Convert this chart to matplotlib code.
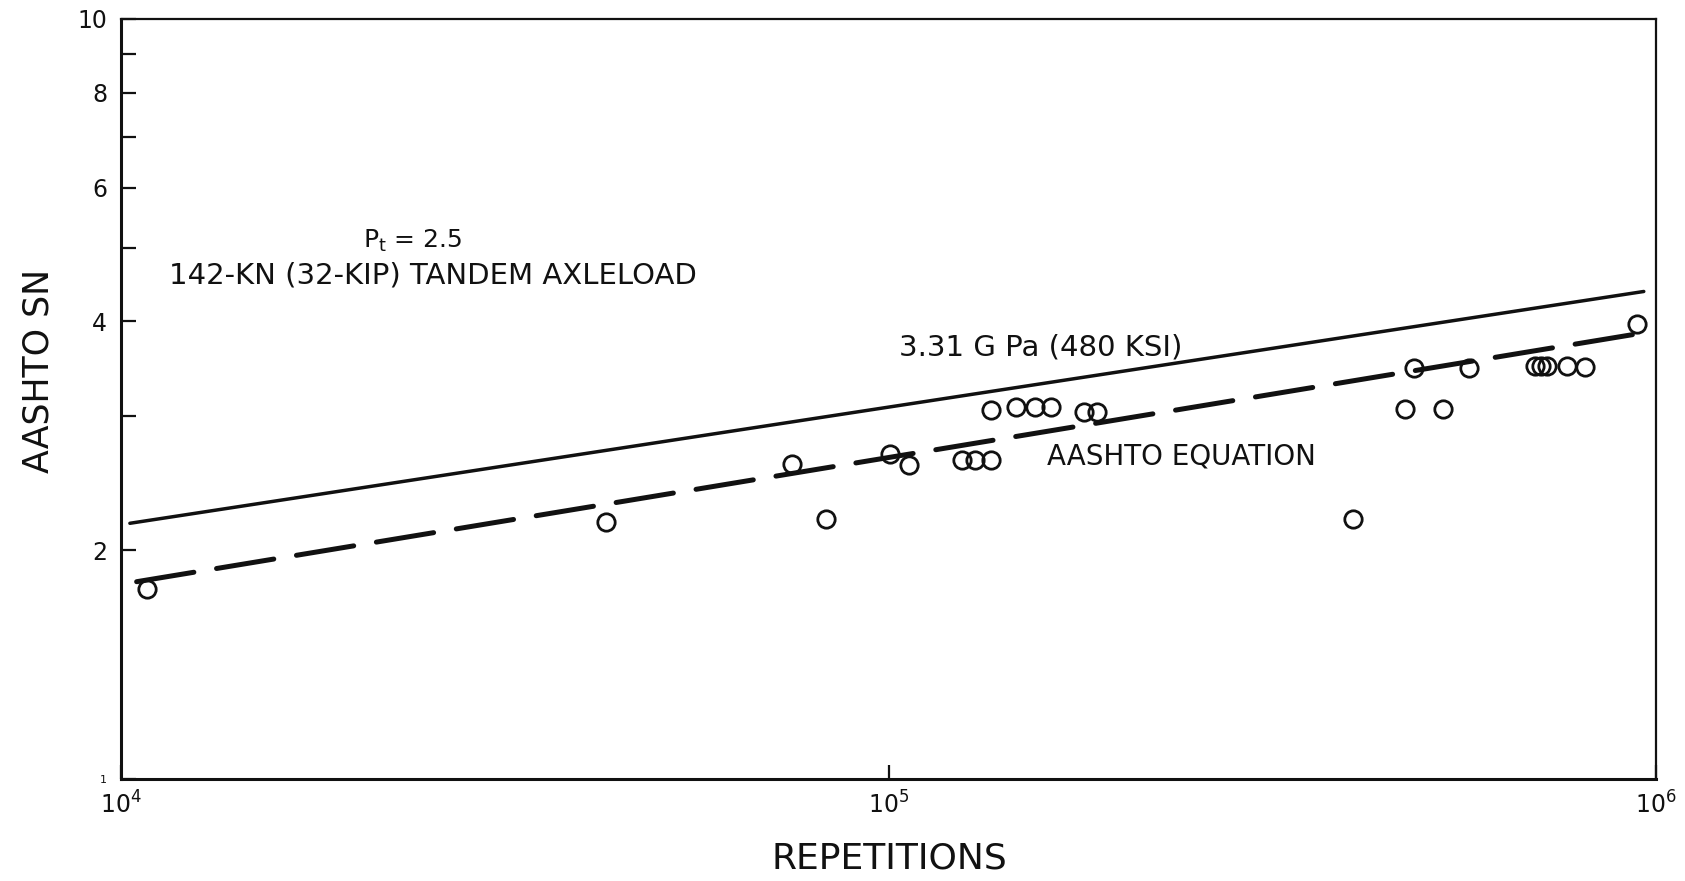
"""
AASHTO SN vs load repetitions - 142-kN tandem axleload, Pt = 2.5
"""

import matplotlib
matplotlib.use("Agg")
import matplotlib.pyplot as plt
from matplotlib.ticker import FixedLocator, NullFormatter, NullLocator

# ----------------------------------------------------------------------
# data
# ----------------------------------------------------------------------
reps = [1.08e4, 4.29e4, 7.49e4, 8.28e4, 1.005e5, 1.064e5, 1.247e5, 1.296e5,
        1.362e5, 1.358e5, 1.468e5, 1.552e5, 1.629e5, 1.80e5, 1.867e5,
        4.03e5, 4.71e5, 4.84e5, 5.28e5, 5.71e5, 6.95e5, 7.09e5, 7.20e5,
        7.65e5, 8.07e5, 9.46e5]
sn = [1.78, 2.18, 2.60, 2.20, 2.68, 2.59, 2.63, 2.63,
      2.63, 3.06, 3.09, 3.09, 3.09, 3.04, 3.04,
      2.20, 3.07, 3.47, 3.07, 3.47, 3.50, 3.50, 3.50,
      3.50, 3.48, 3.97]

# 3.31 GPa (480 ksi) line, straight on log-log
gpa_reps = [1.027e4, 9.64e5]
gpa_sn = [2.17, 4.38]

# AASHTO equation line
aashto_reps = [1.048e4, 9.57e5]
aashto_sn = [1.818, 3.86]

y_major = [1, 2, 4, 6, 8, 10]
y_minor = [3, 5, 7, 9]
x_major = [1e4, 1e5, 1e6]
x_labels = [r"$\mathregular{10^{4}}$", r"$\mathregular{10^{5}}$", r"$\mathregular{10^{6}}$"]

ink = "#111111"
plt.rcParams["font.family"] = "DejaVu Sans"
plt.rcParams["mathtext.fontset"] = "dejavusans"

# ----------------------------------------------------------------------
# figure
# ----------------------------------------------------------------------
fig = plt.figure(figsize=(16.85, 8.81), dpi=100)
ax = fig.add_axes([121 / 1685, 1 - 779 / 881, 1535 / 1685, 760 / 881])

ax.plot(gpa_reps, gpa_sn, color=ink, lw=2.5, solid_capstyle="round")
ax.plot(aashto_reps, aashto_sn, color=ink, lw=3.6, dashes=(11.6, 4.6),
        dash_capstyle="round")
ax.plot(reps, sn, linestyle="none", marker="o", ms=12.5, mew=2.0,
        mfc="none", mec=ink)

ax.set_xscale("log")
ax.set_yscale("log")
ax.set_xlim(1e4, 1e6)
ax.set_ylim(1, 10)

ax.yaxis.set_major_locator(FixedLocator(y_major))
ax.yaxis.set_minor_locator(FixedLocator(y_minor))
ax.yaxis.set_minor_formatter(NullFormatter())
ax.set_yticklabels([str(v) for v in y_major])
ax.xaxis.set_major_locator(FixedLocator(x_major))
ax.xaxis.set_minor_locator(NullLocator())
ax.set_xticklabels(x_labels)

ax.tick_params(axis="y", which="both", direction="in", length=11, width=1.6,
               pad=10, labelsize=17, colors=ink)
ax.tick_params(axis="x", which="both", direction="in", length=10, width=1.6,
               pad=9, labelsize=17, colors=ink)
for lab in ax.get_yticklabels():
    if lab.get_text() == "1":
        lab.set_fontsize(8)

for side in ["left", "bottom"]:
    ax.spines[side].set_linewidth(2.2)
for side in ["top", "right"]:
    ax.spines[side].set_linewidth(1.6)
for sp in ax.spines.values():
    sp.set_color(ink)

# annotations
ax.text(0.1577, 0.708, r"P$_\mathregular{t}$ = 2.5", transform=ax.transAxes,
        fontsize=18, va="center", ha="left", color=ink)
ax.text(0.0313, 0.663, "142-KN (32-KIP) TANDEM AXLELOAD", transform=ax.transAxes,
        fontsize=21, va="center", ha="left", color=ink)
ax.text(0.507, 0.568, "3.31 G Pa (480 KSI)", transform=ax.transAxes,
        fontsize=21, va="center", ha="left", color=ink)
ax.text(0.603, 0.4237, "AASHTO EQUATION", transform=ax.transAxes,
        fontsize=20, va="center", ha="left", color=ink)

# axis titles
fig.text(0.0226, 0.579, "AASHTO SN", rotation=90, ha="center", va="center",
         fontsize=25, color=ink)
fig.text(0.528, 0.026, "REPETITIONS", ha="center", va="center",
         fontsize=26, color=ink)

fig.savefig("out.png", dpi=100)
